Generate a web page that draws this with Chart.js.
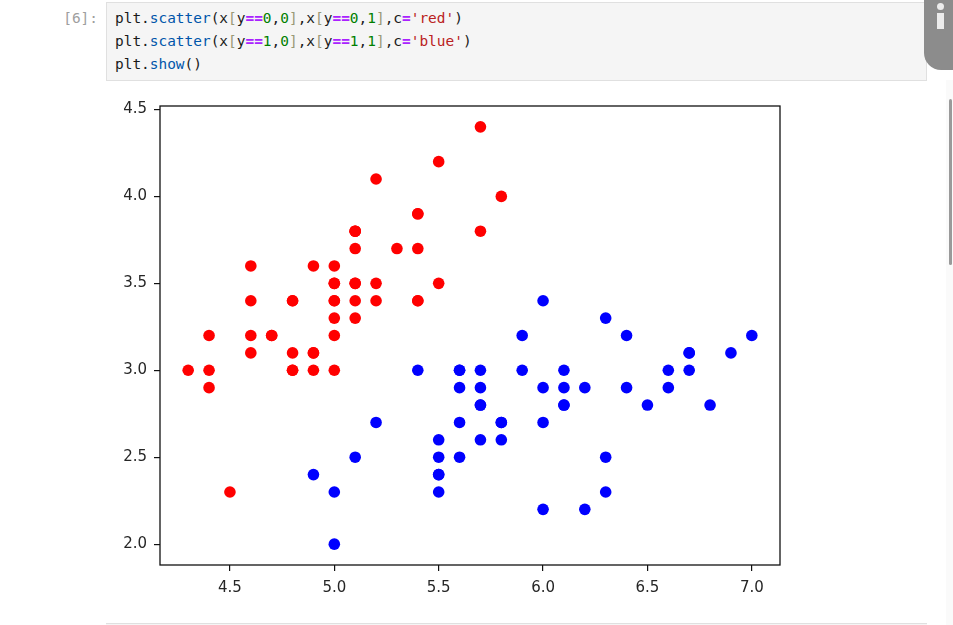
<!DOCTYPE html>
<html>
<head>
<meta charset="utf-8">
<script src="https://cdn.jsdelivr.net/npm/chart.js@4"></script>
<style>
    body { margin: 0; background: #fff; width: 953px; height: 625px; overflow: hidden; position: relative; font-family: 'DejaVu Sans Mono', monospace; }
    .prompt { position: absolute; left: 56px; top: 7px; width: 42px; text-align: right; font-size: 14.45px; line-height: 23px; color: #9e9e9e; }
    .celula { position: absolute; left: 106px; top: 2px; width: 819px; height: 77px; background: #f5f5f5; border: 1px solid #e0e0e0; }
    .celula pre { margin: 0; padding: 4px 0 0 8px; font-family: 'DejaVu Sans Mono', monospace; font-size: 14.45px; line-height: 23px; color: #1a1a1a; }
    .p { color: #0055aa; }
    .o { color: #aa22ff; font-weight: bold; }
    .n { color: #008000; }
    .s { color: #ba2121; }
    .b { color: #999977; }
    .aba { position: absolute; left: 924px; top: 0; width: 40px; height: 70px; background: #8c8c8c; border-bottom-left-radius: 17px; }
    .aba .ponto { position: absolute; left: 13px; top: 3px; width: 7px; height: 7px; border-radius: 50%; background: #ececec; }
    .aba .barra { position: absolute; left: 13px; top: 13px; width: 7px; height: 16px; background: #ececec; }
    .faixa { position: absolute; left: 946px; top: 80px; width: 7px; height: 545px; background: #fafafa; }
    .rolagem { position: absolute; left: 949px; top: 99px; width: 3px; height: 166px; background: #9a9a9a; border-radius: 2px; }
    .proxima { position: absolute; left: 106px; top: 623px; width: 821px; height: 4px; background: #f5f5f5; border-top: 1px solid #e0e0e0; }
    #grafico { position: absolute; left: 100px; top: 90px; }
</style>
</head>
<body>
<div class="prompt">[6]:</div>
<div class="celula"><pre>plt.<span class="p">scatter</span>(x<span class="b">[</span>y<span class="o">==</span><span class="n">0</span>,<span class="n">0</span><span class="b">]</span>,x<span class="b">[</span>y<span class="o">==</span><span class="n">0</span>,<span class="n">1</span><span class="b">]</span>,c<span class="o">=</span><span class="s">'red'</span>)
plt.<span class="p">scatter</span>(x<span class="b">[</span>y<span class="o">==</span><span class="n">1</span>,<span class="n">0</span><span class="b">]</span>,x<span class="b">[</span>y<span class="o">==</span><span class="n">1</span>,<span class="n">1</span><span class="b">]</span>,c<span class="o">=</span><span class="s">'blue'</span>)
plt.<span class="p">show</span>()</pre></div>
<div class="aba"><div class="ponto"></div><div class="barra"></div></div>
<div class="faixa"></div>
<div class="rolagem"></div>
<canvas id="grafico" width="700" height="520"></canvas>
<div class="proxima"></div>
<script>
// classe 0 (vermelho)
const vermelhoX = [5.1,4.9,4.7,4.6,5.0,5.4,4.6,5.0,4.4,4.9,5.4,4.8,4.8,4.3,5.8,5.7,5.4,5.1,5.7,5.1,5.4,5.1,4.6,5.1,4.8,
                   5.0,5.0,5.2,5.2,4.7,4.8,5.4,5.2,5.5,4.9,5.0,5.5,4.9,4.4,5.1,5.0,4.5,4.4,5.0,5.1,4.8,5.1,4.6,5.3,5.0];
const vermelhoY = [3.5,3.0,3.2,3.1,3.6,3.9,3.4,3.4,2.9,3.1,3.7,3.4,3.0,3.0,4.0,4.4,3.9,3.5,3.8,3.8,3.4,3.7,3.6,3.3,3.4,
                   3.0,3.4,3.5,3.4,3.2,3.1,3.4,4.1,4.2,3.1,3.2,3.5,3.6,3.0,3.4,3.5,2.3,3.2,3.5,3.8,3.0,3.8,3.2,3.7,3.3];
// classe 1 (azul)
const azulX = [7.0,6.4,6.9,5.5,6.5,5.7,6.3,4.9,6.6,5.2,5.0,5.9,6.0,6.1,5.6,6.7,5.6,5.8,6.2,5.6,5.9,6.1,6.3,6.1,6.4,
               6.6,6.8,6.7,6.0,5.7,5.5,5.5,5.8,6.0,5.4,6.0,6.7,6.3,5.6,5.5,5.5,6.1,5.8,5.0,5.6,5.7,5.7,6.2,5.1,5.7];
const azulY = [3.2,3.2,3.1,2.3,2.8,2.8,3.3,2.4,2.9,2.7,2.0,3.0,2.2,2.9,2.9,3.1,3.0,2.7,2.2,2.5,3.2,2.8,2.5,2.8,2.9,
               3.0,2.8,3.0,2.9,2.6,2.4,2.4,2.7,2.7,3.0,3.4,3.1,2.3,3.0,2.5,2.6,3.0,2.6,2.3,2.7,3.0,2.9,2.9,2.5,2.8];

const ticksX = [4.5, 5.0, 5.5, 6.0, 6.5, 7.0];
const ticksY = [2.0, 2.5, 3.0, 3.5, 4.0, 4.5];

const pontos = (xs, ys) => xs.map((x, i) => ({ x: x, y: ys[i] }));

// moldura do eixo, como no matplotlib
const moldura = {
    id: 'moldura',
    afterDraw(chart) {
        const { ctx, chartArea: a } = chart;
        ctx.save();
        ctx.strokeStyle = '#111';
        ctx.lineWidth = 1.3;
        ctx.strokeRect(a.left, a.top, a.right - a.left, a.bottom - a.top);
        ctx.restore();
    }
};

const fonteTicks = { family: 'DejaVu Sans', size: 15 };
const grade = { drawOnChartArea: false, drawTicks: true, tickLength: 6, color: '#111', lineWidth: 1.2 };

new Chart(document.getElementById('grafico').getContext('2d'), {
    type: 'scatter',
    data: {
        datasets: [
            { label: 'y==0', data: pontos(vermelhoX, vermelhoY), backgroundColor: '#ff0000', borderWidth: 0, pointRadius: 5.8 },
            { label: 'y==1', data: pontos(azulX, azulY), backgroundColor: '#0000ff', borderWidth: 0, pointRadius: 5.8 }
        ]
    },
    options: {
        responsive: false,
        animation: false,
        devicePixelRatio: 1,
        layout: { padding: { top: 14, right: 20, left: 0, bottom: 0 } },
        plugins: { legend: { display: false }, tooltip: { enabled: false } },
        scales: {
            x: {
                min: 4.165, max: 7.135,
                grid: grade,
                border: { display: false },
                afterBuildTicks: axis => { axis.ticks = ticksX.map(v => ({ value: v })); },
                afterFit: axis => { axis.height = 45; },
                ticks: { font: fonteTicks, color: '#262626', padding: 8, maxRotation: 0, callback: v => v.toFixed(1) }
            },
            y: {
                min: 1.88, max: 4.52,
                grid: grade,
                border: { display: false },
                afterBuildTicks: axis => { axis.ticks = ticksY.map(v => ({ value: v })); },
                afterFit: axis => { axis.width = 60; },
                ticks: { font: fonteTicks, color: '#262626', padding: 7, callback: v => v.toFixed(1) }
            }
        }
    },
    plugins: [moldura]
});
</script>
</body>
</html>
